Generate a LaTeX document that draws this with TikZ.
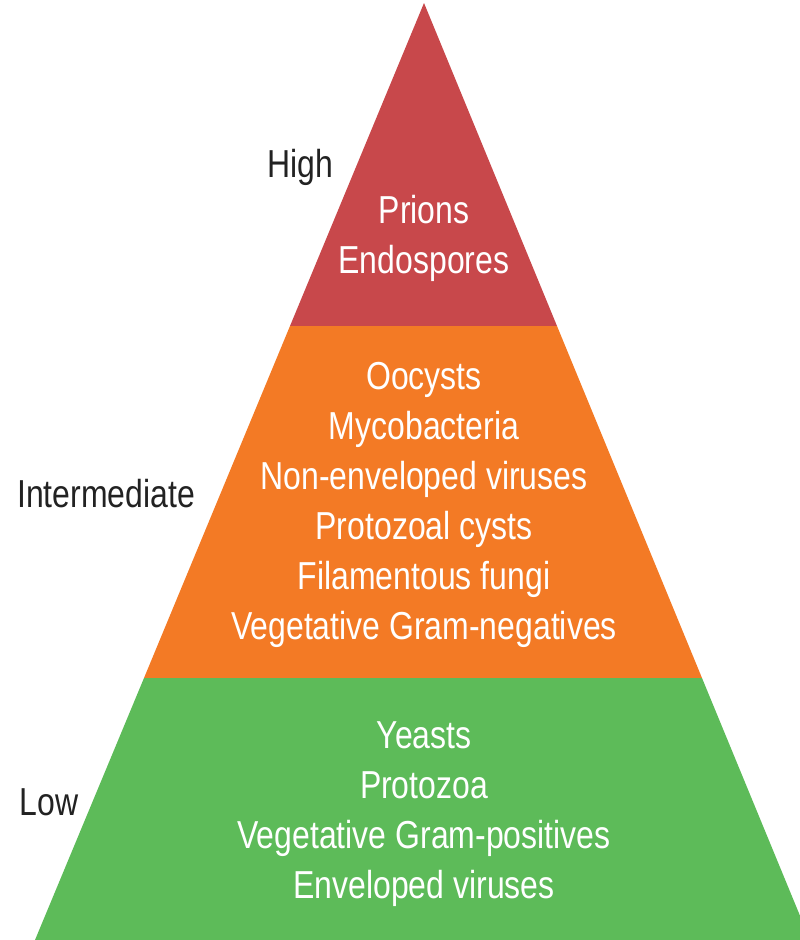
\documentclass[tikz,border=0pt]{standalone}
\usepackage{fontspec}
\setmainfont{Liberation Sans}[FakeStretch=0.82]
\usepackage{xcolor}
\usepackage{tikz}
\usetikzlibrary{positioning}

\definecolor{tierred}{HTML}{C8484B}
\definecolor{tierorange}{HTML}{F37A25}
\definecolor{tiergreen}{HTML}{5DBB59}
\definecolor{labelgray}{HTML}{222222}

\begin{document}
\begin{tikzpicture}[x=1pt, y=-1pt,
  item/.style={anchor=base, inner sep=0pt, text=white, font=\fontsize{39}{50}\selectfont},
  level/.style={anchor=base, inner sep=0pt, text=labelgray, font=\fontsize{39}{50}\selectfont}]
  \useasboundingbox (0,0) rectangle (800,940);

  % pyramid corners and tier boundaries
  \coordinate (apex) at (424,3);
  \coordinate (redL) at (290,326);
  \coordinate (redR) at (557,326);
  \coordinate (midL) at (144,678);
  \coordinate (midR) at (702,678);
  \coordinate (baseL) at (35,940);
  \coordinate (baseR) at (810,940);

  \begin{scope}
    \clip (0,0) rectangle (800,940);
    \fill [tierred] (apex) -- (redR) -- (redL) -- cycle;
    \fill [tierorange] (redL) -- (redR) -- (midR) -- (midL) -- cycle;
    \fill [tiergreen] (midL) -- (midR) -- (baseR) -- (baseL) -- cycle;
  \end{scope}

  % high tier
  \node (prions) [item] at (424,223) {Prions};
  \node (endospores) [item] at (424,273) {Endospores};

  % intermediate tier
  \node (oocysts) [item] at (424,389) {Oocysts};
  \node (mycobacteria) [item] at (424,439) {Mycobacteria};
  \node (nonenveloped) [item] at (424,489) {Non-enveloped viruses};
  \node (cysts) [item] at (424,539) {Protozoal cysts};
  \node (fungi) [item] at (424,589) {Filamentous fungi};
  \node (gramneg) [item] at (424,639) {Vegetative Gram-negatives};

  % low tier
  \node (yeasts) [item] at (424,748) {Yeasts};
  \node (protozoa) [item] at (424,798) {Protozoa};
  \node (grampos) [item] at (424,848) {Vegetative Gram-positives};
  \node (enveloped) [item] at (424,898) {Enveloped viruses};

  % resistance levels
  \node (high) [level] at (300,177) {High};
  \node (intermediate) [level] at (106,507) {Intermediate};
  \node (low) [level] at (49,815) {Low};
\end{tikzpicture}
\end{document}
